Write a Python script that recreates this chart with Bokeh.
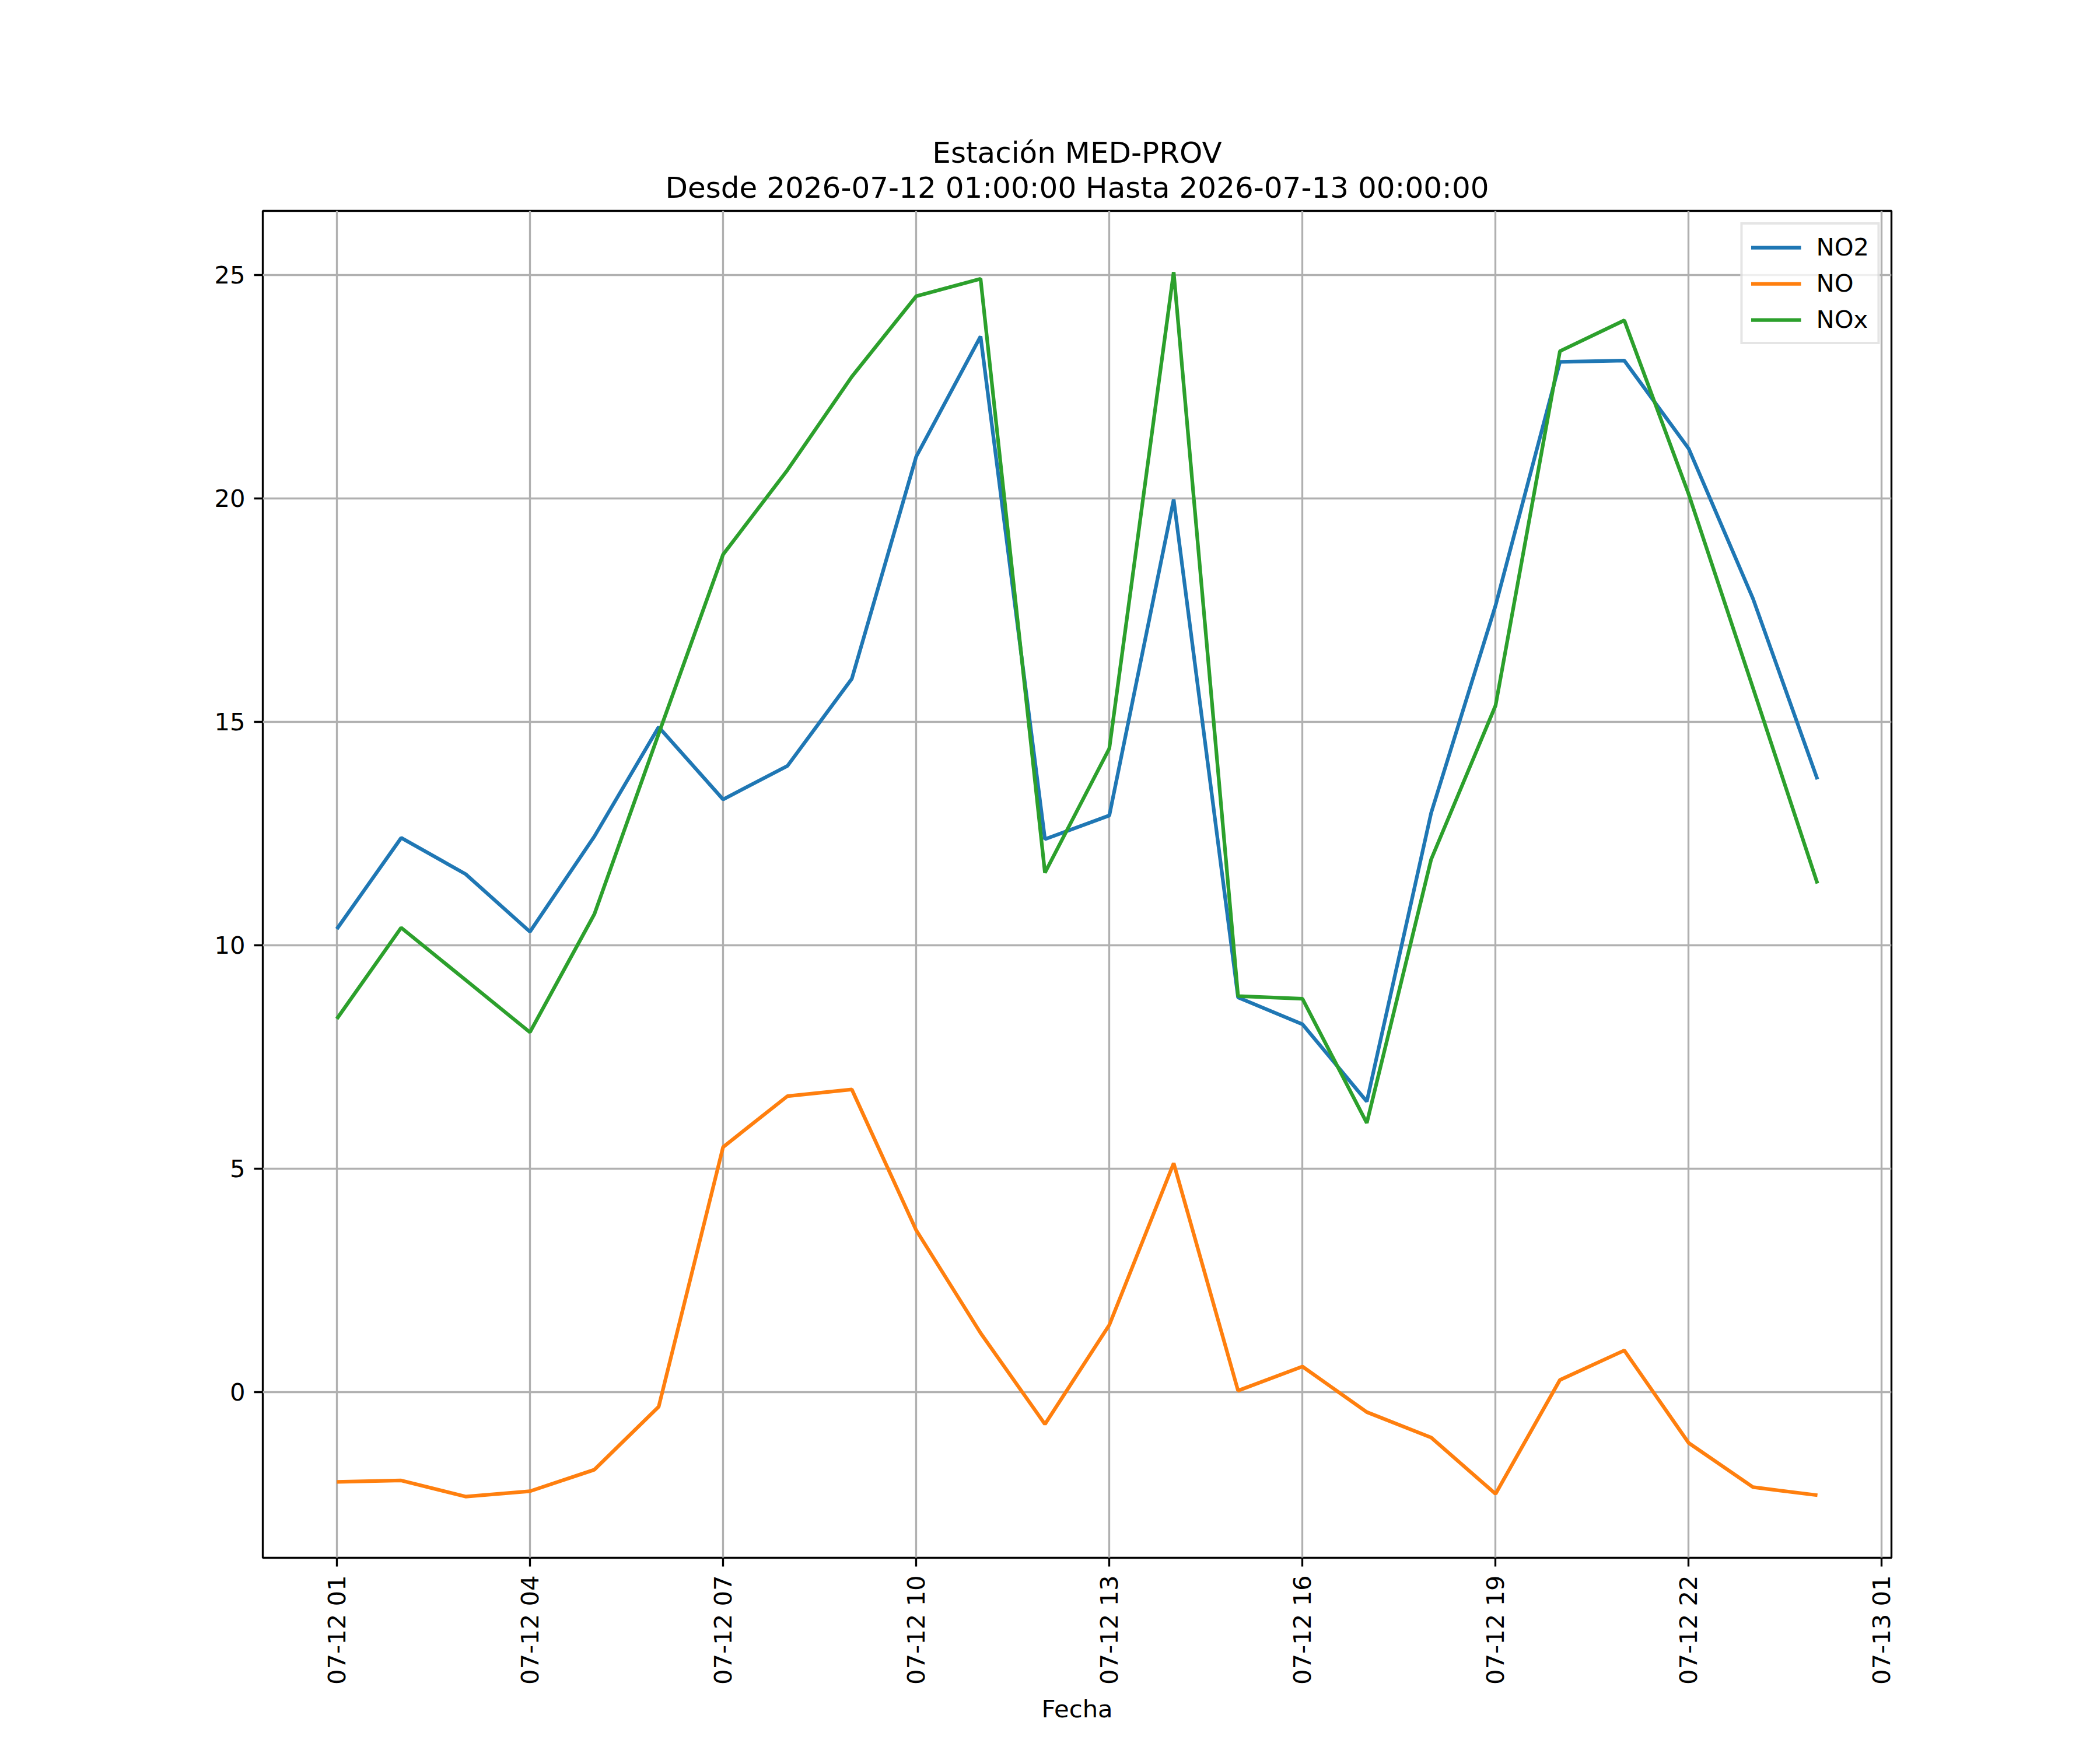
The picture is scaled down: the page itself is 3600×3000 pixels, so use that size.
import math
import pandas as pd
from bokeh.plotting import figure
from bokeh.models import (ColumnDataSource, Range1d, FixedTicker, DatetimeTickFormatter,
                          Title, Legend, LegendItem)
from bokeh.embed import file_html
from bokeh.resources import INLINE

# ---------------- data ----------------
times = [
    "2026-07-12 01:00", "2026-07-12 02:00", "2026-07-12 03:00", "2026-07-12 04:00",
    "2026-07-12 05:00", "2026-07-12 06:00", "2026-07-12 07:00", "2026-07-12 08:00",
    "2026-07-12 09:00", "2026-07-12 10:00", "2026-07-12 11:00", "2026-07-12 12:00",
    "2026-07-12 13:00", "2026-07-12 14:00", "2026-07-12 15:00", "2026-07-12 16:00",
    "2026-07-12 17:00", "2026-07-12 18:00", "2026-07-12 19:00", "2026-07-12 20:00",
    "2026-07-12 21:00", "2026-07-12 22:00", "2026-07-12 23:00", "2026-07-13 00:00",
]
no2 = [10.36, 12.40, 11.59, 10.30, 12.43, 14.88, 13.26, 14.01, 15.96, 20.93, 23.62, 12.37,
       12.90, 19.97, 8.83, 8.23, 6.50, 12.96, 17.60, 23.05, 23.08, 21.11, 17.75, 13.71]
no = [-2.01, -1.98, -2.34, -2.22, -1.74, -0.33, 5.48, 6.62, 6.77, 3.62, 1.32, -0.72,
      1.50, 5.12, 0.03, 0.57, -0.45, -1.02, -2.28, 0.27, 0.93, -1.14, -2.13, -2.31]
nox = [8.35, 10.39, 9.22, 8.05, 10.69, 14.73, 18.74, 20.63, 22.72, 24.52, 24.91, 11.62,
       14.40, 25.06, 8.86, 8.80, 6.02, 11.92, 15.36, 23.29, 23.98, 20.09, 15.75, 11.38]
series_names = ["NO2", "NO", "NOx"]
x_tick_times = ["2026-07-12 01:00", "2026-07-12 04:00", "2026-07-12 07:00", "2026-07-12 10:00",
                "2026-07-12 13:00", "2026-07-12 16:00", "2026-07-12 19:00", "2026-07-12 22:00",
                "2026-07-13 01:00"]
y_ticks = [0, 5, 10, 15, 20, 25]
title_line1 = "Estación MED-PROV"
title_line2 = "Desde 2026-07-12 01:00:00 Hasta 2026-07-13 00:00:00"
x_label = "Fecha"

# ---------------- styles ----------------
FONT = "DejaVu Sans"
colors = ["#1f77b4", "#ff7f0e", "#2ca02c"]
LW = 6.25
THIN = 3.33
TICK_FS = "41.7px"

t = pd.to_datetime(times)
src = ColumnDataSource(dict(t=t, no2=no2, no=no, nox=nox))

span = t[-1] - t[0]
xr = Range1d(t[0] - 0.05 * span, t[-1] + 0.05 * span)
allv = no2 + no + nox
vmin, vmax = min(allv), max(allv)
yr = Range1d(vmin - 0.05 * (vmax - vmin), vmax + 0.05 * (vmax - vmin))

p = figure(width=3584, height=2984, x_axis_type="datetime", x_range=xr, y_range=yr,
           output_backend="svg", toolbar_location=None,
           min_border_left=450, min_border_right=342, min_border_top=361, min_border_bottom=314)
p.background_fill_color = "white"
p.border_fill_color = "white"
p.outline_line_color = "black"
p.outline_line_width = THIN

# titles (first added is nearest the frame)
p.add_layout(Title(text=title_line2, align="center", text_font=FONT, text_font_size="50px",
                   text_font_style="normal", text_color="black", standoff=21), "above")
p.add_layout(Title(text=title_line1, align="center", text_font=FONT, text_font_size="50px",
                   text_font_style="normal", text_color="black", standoff=-20), "above")

# lines
renderers = []
for col, c in zip(["no2", "no", "nox"], colors):
    r = p.line("t", col, source=src, line_color=c, line_width=LW)
    renderers.append(r)

# axes
ms = [(pd.Timestamp(s) - pd.Timestamp("1970-01-01")) / pd.Timedelta(milliseconds=1) for s in x_tick_times]
xa = p.xaxis[0]
xa.ticker = FixedTicker(ticks=ms)
fmt = "%m-%d %H"
xa.formatter = DatetimeTickFormatter(hours=fmt, hourmin=fmt, days=fmt, minutes=fmt, minsec=fmt,
                                     seconds=fmt, months=fmt, years=fmt, milliseconds=fmt)
xa.major_label_orientation = math.pi / 2
xa.axis_label = x_label
xa.axis_label_text_font = FONT
xa.axis_label_text_font_size = TICK_FS
xa.axis_label_text_font_style = "normal"
xa.axis_label_text_color = "black"
xa.axis_label_standoff = 14

ya = p.yaxis[0]
ya.ticker = FixedTicker(ticks=y_ticks)

for ax in (xa, ya):
    ax.major_label_text_font = FONT
    ax.major_label_text_font_size = TICK_FS
    ax.major_label_text_color = "black"
    ax.major_label_standoff = 15
    ax.major_tick_out = 15
    ax.major_tick_in = 0
    ax.major_tick_line_width = THIN
    ax.major_tick_line_color = "black"
    ax.minor_tick_out = 0
    ax.minor_tick_in = 0
    ax.axis_line_color = None

for g in (p.xgrid[0], p.ygrid[0]):
    g.grid_line_color = "#b0b0b0"
    g.grid_line_width = THIN

# legend
legend = Legend(items=[LegendItem(label=n, renderers=[r]) for n, r in zip(series_names, renderers)],
                location="top_right")
legend.margin = 20
legend.padding = 14
legend.spacing = 13
legend.glyph_width = 86
legend.glyph_height = 42
legend.label_height = 42
legend.label_standoff = 26
legend.label_text_font = FONT
legend.label_text_font_size = TICK_FS
legend.label_text_color = "black"
legend.border_line_color = "#cccccc"
legend.border_line_width = 4.2
legend.background_fill_color = "white"
legend.background_fill_alpha = 0.8
p.add_layout(legend, "center")

open("out.html", "w").write(file_html(p, INLINE))
